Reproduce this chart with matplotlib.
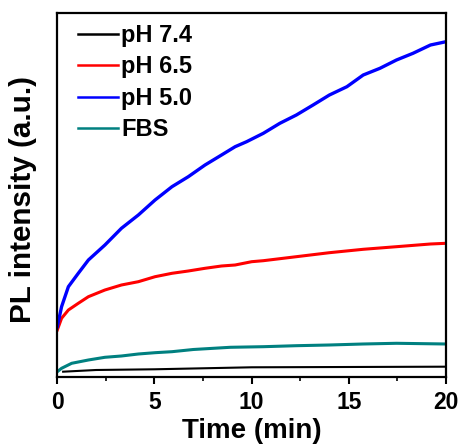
import matplotlib
matplotlib.use("Agg")
import matplotlib.pyplot as plt
from matplotlib.ticker import MultipleLocator

plt.rcParams['font.family'] = ['Liberation Sans', 'DejaVu Sans']
plt.rcParams['font.weight'] = 'bold'

# Datos (unidades arbitrarias)
t_ph50 = [0, 0.22, 0.57, 1.08, 1.6, 2.45, 3.3, 4.17, 5.03, 5.9, 6.74, 7.6, 8.45,
          9.15, 9.74, 10.6, 11.45, 12.3, 13.16, 14.0, 14.9, 15.74, 16.6, 17.45,
          18.3, 19.2, 20]
pl_ph50 = [50, 70, 90, 103.4, 116.7, 131.7, 148.4, 161.7, 176.7, 190, 200, 211.7,
           221.7, 230, 235, 243.4, 253.4, 261.7, 271.7, 281.7, 290, 301.7, 308.4,
           316.7, 323.4, 331.7, 335]

t_ph65 = [0, 0.22, 0.57, 1.08, 1.6, 2.45, 3.3, 4.17, 5.03, 5.9, 6.74, 7.6, 8.45,
          9.15, 10, 10.6, 12.3, 14, 15.74, 17.45, 19.2, 20]
pl_ph65 = [46.7, 58.4, 66.7, 73.4, 80, 86.7, 91.7, 95, 100, 103.4, 105.7, 108.4,
           110.7, 111.7, 115, 116, 120, 124, 127.4, 130, 132.7, 133.4]

t_fbs = [0, 0.22, 0.74, 1.6, 2.45, 3.3, 4.17, 5.03, 5.9, 7.0, 8.9, 10.6, 12.3,
         14, 15.74, 17.45, 20]
pl_fbs = [5, 8.4, 13.4, 16.7, 19.4, 20.7, 22.7, 24, 25, 27.2, 29.4, 30, 31, 31.7,
          32.7, 33.4, 32.7]

t_ph74 = [0.3, 2, 5, 10, 15, 20]
pl_ph74 = [5, 6.7, 7.4, 9.4, 9.7, 10]

fig = plt.figure(figsize=(4.61, 4.45), dpi=100)
ax = fig.add_axes([0.1243, 0.1535, 0.8432, 0.8166])

ax.plot(t_ph74, pl_ph74, color='black', lw=1.5, label='pH 7.4')
ax.plot(t_ph65, pl_ph65, color='#ff0000', lw=2.2, label='pH 6.5')
ax.plot(t_ph50, pl_ph50, color='#0000ff', lw=2.4, label='pH 5.0')
ax.plot(t_fbs, pl_fbs, color='#008080', lw=2.2, label='FBS')

ax.set_xlim(0, 20)
ax.set_ylim(0, 363.4)
ax.xaxis.set_major_locator(MultipleLocator(5))
ax.xaxis.set_minor_locator(MultipleLocator(2.5))
ax.set_yticks([])
ax.tick_params(axis='x', which='major', direction='out', length=5, width=1.5,
               labelsize=16.5, pad=5)
ax.tick_params(axis='x', which='minor', direction='out', length=3, width=1.2)
for s in ax.spines.values():
    s.set_linewidth(1.6)

ax.set_xlabel('Time (min)', fontsize=20, fontweight='bold', labelpad=3)
ax.set_ylabel('PL intensity (a.u.)', fontsize=21.3, fontweight='bold')
ax.yaxis.set_label_coords(-0.052, 0.487)

leg = ax.legend(loc='upper left', frameon=False, fontsize=17, handlelength=1.7,
                handletextpad=0.15, labelspacing=0.36, borderaxespad=0.0,
                bbox_to_anchor=(0.028, 0.997))
for h in leg.get_lines():
    h.set_linewidth(1.8)

fig.savefig('out.png', dpi=100)
